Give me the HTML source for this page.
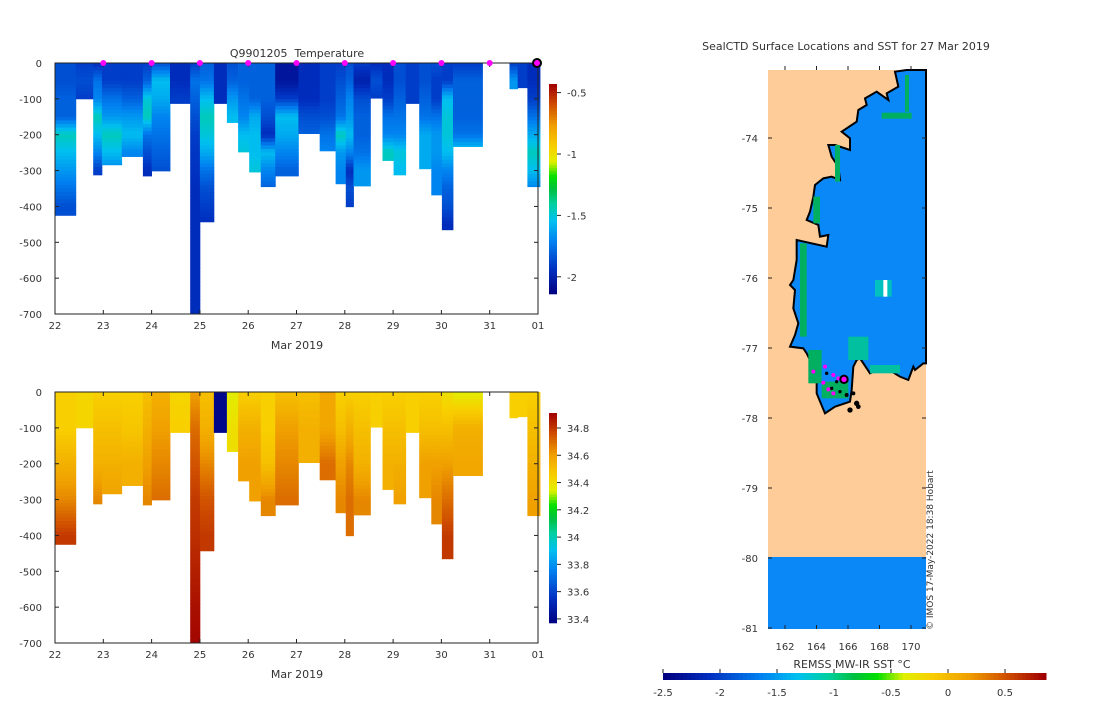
<!DOCTYPE html>
<html><head><meta charset="utf-8">
<style>
body{margin:0;background:#fff;}
svg text{font-family:"DejaVu Sans","Liberation Sans",sans-serif;fill:#333;}
</style></head>
<body>
<svg id="fig" width="1100" height="700" viewBox="0 0 1100 700" xmlns="http://www.w3.org/2000/svg">
<g id="topPanel"></g>
<g id="botPanel"></g>
<g id="map">
  <text x="846" y="50" font-size="11" text-anchor="middle">SealCTD Surface Locations and SST for 27 Mar 2019</text>
  <rect x="768" y="70" width="158" height="559" fill="#fdcc99"/>
  <g transform="translate(760,60) scale(0.33333)">
    <polygon fill="#0a88f8" stroke="#000" stroke-width="6" points="440,30 405,35 415,80 380,100 385,120 350,95 315,115 320,135 295,150 290,185 245,215 270,235 270,270 225,255 205,255 215,290 235,320 240,360 215,350 190,355 165,375 160,410 150,455 140,480 175,495 180,530 205,525 200,560 110,540 110,600 100,660 90,675 105,690 100,745 115,790 105,825 90,860 130,865 140,880 160,920 170,960 170,1000 195,1060 225,1040 270,1025 275,990 280,920 290,900 300,895 330,940 350,930 380,925 420,950 445,960 460,920 465,930 490,910 498,910 498,30"/>
    <g fill="#00b060">
      <rect x="435" y="45" width="12" height="110"/><rect x="365" y="158" width="90" height="18"/>
      <rect x="225" y="255" width="15" height="110"/><rect x="160" y="410" width="20" height="80"/>
      <rect x="120" y="550" width="20" height="280"/><rect x="145" y="870" width="40" height="100"/>
      <rect x="265" y="830" width="60" height="70" fill="#00c0a0"/><rect x="330" y="915" width="90" height="25" fill="#00c0a0"/>
      <rect x="185" y="965" width="80" height="50"/><rect x="345" y="660" width="50" height="50" fill="#00c0c0"/>
      <rect x="370" y="660" width="12" height="50" fill="#fff"/>
    </g>
    <g fill="#000">
      <circle cx="200" cy="940" r="5"/><circle cx="230" cy="965" r="5"/><circle cx="215" cy="985" r="5"/><circle cx="240" cy="995" r="5"/><circle cx="260" cy="1005" r="6"/><circle cx="280" cy="1000" r="6"/><circle cx="290" cy="1030" r="8"/><circle cx="270" cy="1050" r="8"/><circle cx="295" cy="1040" r="7"/>
    </g>
    <g fill="#ff00ff">
      <circle cx="195" cy="920" r="6"/><circle cx="220" cy="945" r="6"/><circle cx="190" cy="968" r="6"/><circle cx="160" cy="935" r="6"/><circle cx="205" cy="988" r="6"/><circle cx="220" cy="1000" r="6"/><circle cx="235" cy="955" r="6"/>
    </g>
    <circle cx="252" cy="958" r="11" fill="#ff00ff" stroke="#000" stroke-width="6"/>
  </g>
  <rect x="768" y="557" width="158" height="72" fill="#0a88f8"/>
  <g id="mapaxes"></g>
  <text transform="translate(933,630) rotate(-90)" font-size="9">© IMOS 17-May-2022 18:38 Hobart</text>
  <text x="852" y="668" font-size="11" text-anchor="middle">REMSS MW-IR SST °C</text>
  <g id="sstcb"></g>
</g>
</svg>
<script>
// ---- data ----
const colStart=[22.0,22.43,22.79,22.97,23.38,23.82,24.0,24.38,24.8,25.0,25.29,25.56,25.79,26.02,26.26,26.56,27.04,27.48,27.81,28.02,28.18,28.53,28.78,29.01,29.26,29.54,29.79,30.01,30.24,31.41,31.58,31.78];
const colEnd=[22.43,22.79,22.97,23.38,23.82,24.0,24.38,24.8,25.0,25.29,25.56,25.79,26.02,26.26,26.56,27.04,27.48,27.81,28.02,28.18,28.53,28.78,29.01,29.26,29.54,29.79,30.01,30.24,30.85,31.58,31.78,32.04];
const colDepth=[425,100,312,284,261,315,301,113,700,443,113,166,248,304,345,315,197,245,337,401,343,98,272,312,113,295,368,465,233,72,69,345];
// temperature every 50 m from surface
const tempProfiles=[
[-1.85,-1.85,-1.8,-1.8,-1.45,-1.55,-1.65,-1.75,-1.85],
[-1.9,-1.85,-1.9],
[-1.95,-1.75,-1.7,-1.45,-1.55,-1.7,-1.9],
[-1.9,-1.9,-1.75,-1.65,-1.45,-1.55,-1.7],
[-1.9,-1.9,-1.8,-1.65,-1.55,-1.7],
[-1.9,-1.8,-1.5,-1.45,-1.75,-1.85,-1.95],
[-1.85,-1.55,-1.6,-1.7,-1.75,-1.8,-1.85],
[-1.95,-1.95,-1.9],
[-1.9,-1.75,-1.8,-1.85,-1.9,-1.92,-1.93,-1.95,-1.95,-1.95,-1.95,-1.95,-1.95,-1.95,-1.95],
[-1.8,-1.75,-1.55,-1.45,-1.5,-1.6,-1.75,-1.85,-1.9,-1.95],
[-1.95,-1.95,-1.95],
[-1.85,-1.8,-1.65,-1.55],
[-1.8,-1.8,-1.75,-1.7,-1.55,-1.5],
[-1.8,-1.8,-1.8,-1.6,-1.55,-1.55,-1.5],
[-1.8,-1.8,-1.8,-1.85,-1.95,-1.55,-1.7,-1.8],
[-2.05,-2.05,-1.9,-1.55,-1.6,-1.7,-1.8],
[-1.95,-1.95,-1.95,-1.85,-1.8],
[-1.9,-1.9,-1.9,-1.85,-1.75,-1.7],
[-1.9,-1.85,-1.8,-1.75,-1.45,-1.65,-1.7,-1.7],
[-1.85,-1.8,-1.7,-1.65,-1.55,-1.7,-1.95,-1.85,-1.9],
[-1.9,-2.0,-1.85,-1.8,-1.8,-1.75,-1.65,-1.65],
[-1.95,-1.85,-1.9],
[-1.95,-1.95,-1.9,-1.75,-1.7,-1.45,-1.5],
[-1.85,-1.85,-1.8,-1.75,-1.7,-1.5,-1.55],
[-1.9,-1.9,-1.9],
[-1.85,-1.85,-1.8,-1.75,-1.6,-1.6,-1.6],
[-1.85,-1.9,-1.9,-1.75,-1.65,-1.65,-1.7,-1.7],
[-1.9,-1.9,-1.55,-1.5,-1.5,-1.55,-1.7,-1.8,-1.85,-1.95],
[-1.9,-1.8,-1.8,-1.8,-1.75,-1.5],
[-1.9,-1.65],
[-1.9,-1.9],
[-1.95,-1.95,-1.9,-1.75,-1.6,-1.45,-1.55,-1.7]];
// salinity every 100 m from surface
const salProfiles=[
[34.45,34.45,34.55,34.65,34.8],[34.43,34.43],[34.45,34.5,34.55,34.65],[34.45,34.5,34.55,34.6],
[34.45,34.48,34.55],[34.5,34.55,34.6,34.65],[34.55,34.6,34.65,34.7],[34.43,34.45],
[34.6,34.7,34.75,34.8,34.82,34.85,34.88,34.9],[34.5,34.55,34.65,34.75,34.8],[33.4,33.4],[34.35,34.4],
[34.45,34.55,34.6],[34.45,34.55,34.6,34.6],[34.45,34.45,34.5,34.65],[34.5,34.6,34.65,34.7],
[34.5,34.55],[34.58,34.58,34.7],[34.45,34.5,34.6,34.65],[34.45,34.55,34.65,34.7,34.7],
[34.45,34.5,34.55,34.65],[34.45,34.45],[34.45,34.5,34.55],[34.45,34.5,34.55,34.6],
[34.45,34.45],[34.45,34.5,34.6],[34.45,34.5,34.6,34.65],[34.4,34.5,34.6,34.7,34.8],
[34.35,34.55,34.58],[34.45],[34.45],[34.45,34.5,34.55,34.6]];
const markerDays=[23,24,25,26,27,28,29,30,31];
const currentDay=32;
const xTickDays=[22,23,24,25,26,27,28,29,30,31,32];
const xTickLabels=["22","23","24","25","26","27","28","29","30","31","01"];
const yTicks=[0,-100,-200,-300,-400,-500,-600,-700];
const tempCbTicks=[-0.5,-1,-1.5,-2];
const salCbTicks=[34.8,34.6,34.4,34.2,34,33.8,33.6,33.4];
const sstTicks=[-2.5,-2,-1.5,-1,-0.5,0,0.5];
const latTicks=[-74,-75,-76,-77,-78,-79,-80,-81];
const lonTicks=[162,164,166,168,170];

const NS="http://www.w3.org/2000/svg";
function mk(p,t,a){const e=document.createElementNS(NS,t);for(const k in a)e.setAttribute(k,a[k]);p.appendChild(e);return e;}
const stops=[[0,[0,0,128]],[0.12,[0,48,192]],[0.25,[0,128,240]],[0.35,[0,192,240]],[0.43,[0,208,160]],[0.5,[0,192,64]],[0.56,[0,224,0]],[0.63,[224,240,0]],[0.7,[248,208,0]],[0.8,[240,160,0]],[0.9,[208,80,0]],[1,[160,0,0]]];
function cmap(t){t=Math.max(0,Math.min(1,t));for(let i=1;i<stops.length;i++){if(t<=stops[i][0]){const a=stops[i-1],b=stops[i],f=(t-a[0])/(b[0]-a[0]);return 'rgb('+a[1].map((v,j)=>Math.round(v+(b[1][j]-v)*f)).join(',')+')';}}return 'rgb(160,0,0)';}
function interp(arr,step,d){const i=d/step,k=Math.floor(i);if(k>=arr.length-1)return arr[arr.length-1];const f=i-k;return arr[k]+(arr[k+1]-arr[k])*f;}

function panel(g,y0,profiles,step,vmin,vmax,cbTicks,nm){
  const x=d=>55+(d-22)*48.3;
  const y=m=>y0+(-m)*0.3586;
  for(let c=0;c<colStart.length;c++){
    const cg=mk(g,'g',{});
    
    
    for(let d=0;d<colDepth[c];d+=10){
      const v=interp(profiles[c],step,d+5);
      const h=Math.min(10,colDepth[c]-d);
      mk(cg,'rect',{x:x(colStart[c]).toFixed(1),y:(y0+d*0.3586).toFixed(1),width:(x(colEnd[c])-x(colStart[c])+0.4).toFixed(1),height:(h*0.3586+0.4).toFixed(2),fill:cmap((v-vmin)/(vmax-vmin))});
    }
  }
  const ax=mk(g,'g',{});
  
  
  mk(ax,'rect',{x:55,y:y0,width:483,height:251,fill:'none',stroke:'#222','stroke-width':1});
  yTicks.forEach(t=>{const yy=y(t);mk(ax,'line',{x1:55,x2:59,y1:yy,y2:yy,stroke:'#222'});mk(ax,'line',{x1:534,x2:538,y1:yy,y2:yy,stroke:'#222'});
    const tx=mk(ax,'text',{x:42,y:yy+4,'font-size':10,'text-anchor':'end'});tx.textContent=t;
    
    });
  xTickDays.forEach((d,i)=>{const xx=x(d);mk(ax,'line',{x1:xx,x2:xx,y1:y0+251,y2:y0+247,stroke:'#222'});mk(ax,'line',{x1:xx,x2:xx,y1:y0,y2:y0+4,stroke:'#222'});
    const tx=mk(ax,'text',{x:xx,y:y0+266,'font-size':10,'text-anchor':'middle'});tx.textContent=xTickLabels[i];
    
    });
  const xl=mk(ax,'text',{x:297,y:y0+286,'font-size':11,'text-anchor':'middle'});xl.textContent='Mar 2019';
  
  
  const cb=mk(g,'g',{});
  
  
  const cy0=y0+21,ch=210;
  for(let i=0;i<70;i++){mk(cb,'rect',{x:549,y:(cy0+ch-(i+1)*3).toFixed(1),width:8,height:3.3,fill:cmap((i+0.5)/70)});}
  cbTicks.forEach(t=>{const yy=cy0+ch-(t-vmin)/(vmax-vmin)*ch;mk(cb,'line',{x1:557,x2:561,y1:yy,y2:yy,stroke:'#222'});
    const tx=mk(cb,'text',{x:567,y:yy+4,'font-size':10});tx.textContent=String(t);
    
    });
  return {x,y};
}
const topG=document.getElementById('topPanel'),botG=document.getElementById('botPanel');
const T=panel(topG,63,tempProfiles,50,-2.14,-0.43,tempCbTicks,'temperature');
const tt=mk(topG,'text',{x:297,y:57,'font-size':11,'text-anchor':'middle'});tt.textContent='Q9901205\u00a0\u00a0Temperature';


markerDays.forEach(d=>{const c=mk(topG,'circle',{cx:T.x(d),cy:63,r:3,fill:'#ff00ff'});
  
  });
const cm=mk(topG,'circle',{cx:T.x(currentDay)-1,cy:63,r:4,fill:'#ff00ff',stroke:'#000','stroke-width':2});


panel(botG,392,salProfiles,100,33.37,34.91,salCbTicks,'salinity');

const ma=document.getElementById('mapaxes');
latTicks.forEach(l=>{const yy=138+(-74-l)*70;mk(ma,'line',{x1:768,x2:772,y1:yy,y2:yy,stroke:'#222'});mk(ma,'line',{x1:922,x2:926,y1:yy,y2:yy,stroke:'#222'});
  const tx=mk(ma,'text',{x:758,y:yy+4,'font-size':10,'text-anchor':'end'});tx.textContent=l;
  
  });
lonTicks.forEach(l=>{const xx=785+(l-162)*15.75;mk(ma,'line',{x1:xx,x2:xx,y1:629,y2:625,stroke:'#222'});mk(ma,'line',{x1:xx,x2:xx,y1:66,y2:70,stroke:'#222'});
  const tx=mk(ma,'text',{x:xx,y:650,'font-size':10,'text-anchor':'middle'});tx.textContent=l;
  
  });
const sc=document.getElementById('sstcb');
const sx=v=>663+(v+2.5)*114;
for(let i=0;i<96;i++){const v0=-2.5+i*0.035;mk(sc,'rect',{x:sx(v0).toFixed(1),y:673,width:4.5,height:7,fill:cmap(i/95)});}
sstTicks.forEach(t=>{const xx=sx(t);mk(sc,'line',{x1:xx,x2:xx,y1:669,y2:673,stroke:'#222'});
  const tx=mk(sc,'text',{x:xx,y:696,'font-size':10,'text-anchor':'middle'});tx.textContent=t;
  
  });
</script>
</body></html>
